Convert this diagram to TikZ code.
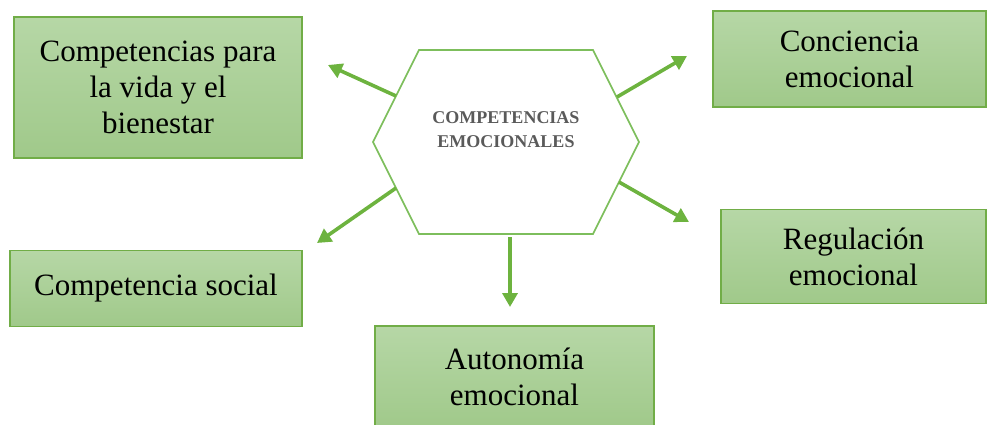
\documentclass[tikz,border=0pt]{standalone}
\usepackage{fontspec}
\setmainfont{Liberation Serif}
\usetikzlibrary{arrows.meta}
\definecolor{gborder}{HTML}{71AD47}
\definecolor{gtop}{HTML}{B6D7A6}
\definecolor{gbot}{HTML}{A0C98A}
\definecolor{garrow}{HTML}{6DB33F}
\definecolor{hexline}{HTML}{7DBE5C}
\definecolor{hextext}{HTML}{5A5A5A}
\tikzset{
  x=1pt, y=-1pt,
  box/.style={draw=gborder, line width=1.2pt, top color=gtop, bottom color=gbot,
    align=center, inner sep=0pt,
    font=\fontsize{31}{36}\selectfont},
  conn/.style={draw=garrow, line width=3.6pt,
    -{Triangle[length=14pt,width=15pt]}},
}
\begin{document}
\begin{tikzpicture}
\useasboundingbox (0,0) rectangle (988,424);
% boxes
\node[box, minimum width=288pt, minimum height=141pt] (vida) at (158,87.5)
  {Competencias para\\la vida y el\\bienestar};
\node[box, minimum width=273pt, minimum height=96pt] (conc) at (849.5,59)
  {Conciencia\\emocional};
\node[box, minimum width=265pt, minimum height=94pt] (regu) at (853.5,256.5)
  {Regulación\\emocional};
\node[box, minimum width=292pt, minimum height=76pt] (soc) at (156,288.5)
  {Competencia social};
\node[box, minimum width=279pt, minimum height=102pt] (auto) at (514.5,377)
  {Autonomía\\emocional};
% hexagon
\draw[hexline, line width=1.6pt] (419,50) -- (593,50) -- (639,142) -- (593,234)
  -- (419,234) -- (373,142) -- cycle;
\node[align=center, text=hextext, font=\fontsize{18}{24}\selectfont\bfseries]
  (hex) at (506,130) {COMPETENCIAS\\EMOCIONALES};
% arrow anchors
\coordinate (s1) at (396,96);
\coordinate (t1) at (328,65);
\coordinate (s2) at (396,188);
\coordinate (t2) at (317,243);
\coordinate (s3) at (617,97);
\coordinate (t3) at (687,56);
\coordinate (s4) at (619,182);
\coordinate (t4) at (689,222);
\coordinate (s5) at (510,237);
\coordinate (t5) at (510,307);
\draw[conn] (s1) -- (t1);
\draw[conn] (s2) -- (t2);
\draw[conn] (s3) -- (t3);
\draw[conn] (s4) -- (t4);
\draw[conn] (s5) -- (t5);
\end{tikzpicture}
\end{document}
